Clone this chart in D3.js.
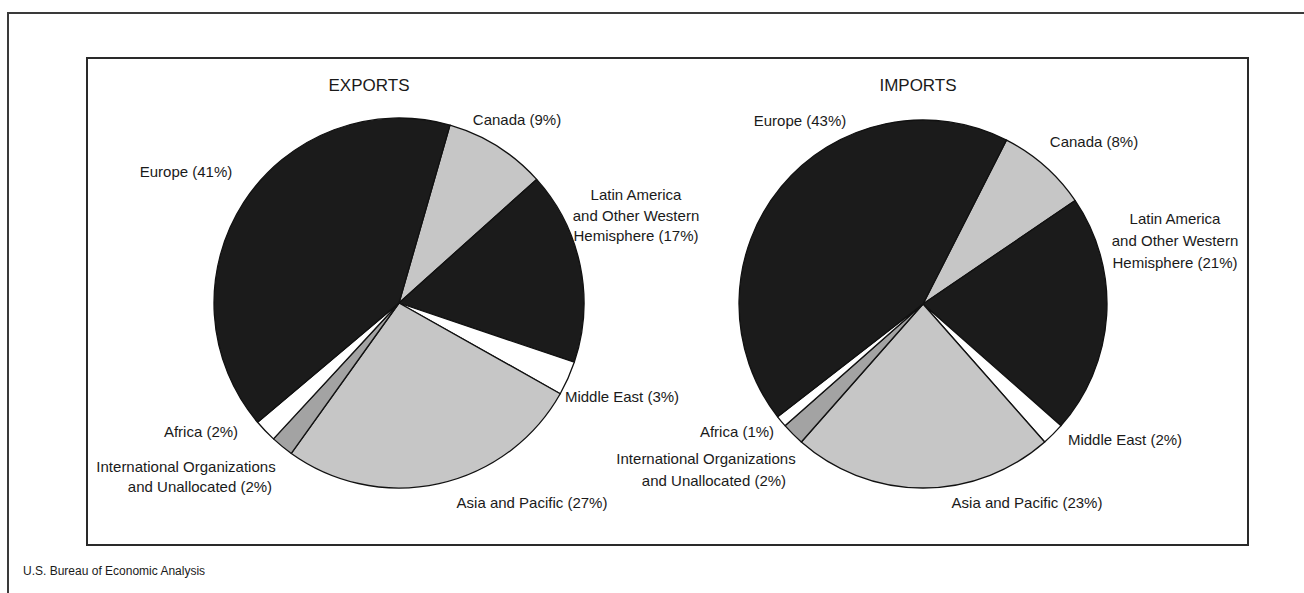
<!DOCTYPE html>
<html>
<head>
<meta charset="utf-8">
<script src="https://cdn.jsdelivr.net/npm/d3@7"></script>
<style>
  html, body { margin: 0; padding: 0; background: #ffffff; }
  svg { display: block; }
  text { font-family: "Liberation Sans", Arial, Helvetica, sans-serif; fill: #1a1a1a; }
</style>
</head>
<body>
<svg id="chart" width="1304" height="593"></svg>
<script>
// ---------- DATA ----------
const categories = [
  "Canada",
  "Latin America|and Other Western|Hemisphere",
  "Middle East",
  "Asia and Pacific",
  "International Organizations|and Unallocated",
  "Africa",
  "Europe"
];
const exportsValues = [9, 17, 3, 27, 2, 2, 41];
const importsValues = [8, 21, 2, 23, 2, 1, 43];
const panelTitles = ["EXPORTS", "IMPORTS"];
const sourceNote = "U.S. Bureau of Economic Analysis";

// ---------- STYLE / LAYOUT ----------
const fillByCategory = ["#c6c6c6", "#1b1b1b", "#ffffff", "#c6c6c6", "#a3a3a3", "#ffffff", "#1b1b1b"];
const deg = Math.PI / 180;

const panels = [
  {
    title: panelTitles[0], values: exportsValues,
    cx: 399, cy: 303, r: 185, start: 16,
    titlePos: [369, 91],
    labels: [
      { lines: [[517, 125]] },
      { lines: [[636, 200], [636, 220.5], [636, 241]] },
      { lines: [[622, 402]] },
      { lines: [[532, 508]] },
      { lines: [[186, 472], [200, 492]] },
      { lines: [[201, 437]] },
      { lines: [[186, 177]] }
    ]
  },
  {
    title: panelTitles[1], values: importsValues,
    cx: 923, cy: 304, r: 184, start: 27,
    titlePos: [918, 91],
    labels: [
      { lines: [[1094, 147]] },
      { lines: [[1175, 223.5], [1175, 245.5], [1175, 268]] },
      { lines: [[1125, 445]] },
      { lines: [[1027, 508]] },
      { lines: [[706, 463.5], [714, 485.5]] },
      { lines: [[737, 437]] },
      { lines: [[800, 126]] }
    ]
  }
];

const svg = d3.select("#chart");

// Outer frame (partially cropped)
svg.append("path")
  .attr("d", "M8,600 L8,13 L1310,13")
  .attr("fill", "none").attr("stroke", "#3a3a3a").attr("stroke-width", 2);

// Inner box
svg.append("rect")
  .attr("x", 87).attr("y", 58).attr("width", 1161).attr("height", 487)
  .attr("fill", "none").attr("stroke", "#2a2a2a").attr("stroke-width", 2);

// Source note
svg.append("text")
  .attr("x", 23).attr("y", 575)
  .style("font-size", "12px")
  .text(sourceNote);

panels.forEach(p => {
  const pie = d3.pie().sort(null).value(d => d)
    .startAngle(p.start * deg).endAngle(p.start * deg + 2 * Math.PI);
  const arcs = pie(p.values);
  const arc = d3.arc().innerRadius(0).outerRadius(p.r);

  const g = svg.append("g").attr("transform", `translate(${p.cx},${p.cy})`);
  g.selectAll("path.slice")
    .data(arcs)
    .join("path")
    .attr("class", "slice")
    .attr("d", arc)
    .attr("fill", (d, i) => fillByCategory[i])
    .attr("stroke", "#111")
    .attr("stroke-width", 1.3)
    .attr("stroke-linejoin", "round");

  svg.append("text")
    .attr("x", p.titlePos[0]).attr("y", p.titlePos[1])
    .attr("text-anchor", "middle")
    .style("font-size", "17px")
    .text(p.title);

  categories.forEach((cat, i) => {
    const parts = cat.split("|");
    const pct = ` (${p.values[i]}%)`;
    parts[parts.length - 1] += pct;
    const layout = p.labels[i];
    parts.forEach((line, j) => {
      const pos = layout.lines[j];
      svg.append("text")
        .attr("x", pos[0]).attr("y", pos[1])
        .attr("text-anchor", "middle")
        .style("font-size", "15px")
        .text(line);
    });
  });
});
</script>
</body>
</html>
